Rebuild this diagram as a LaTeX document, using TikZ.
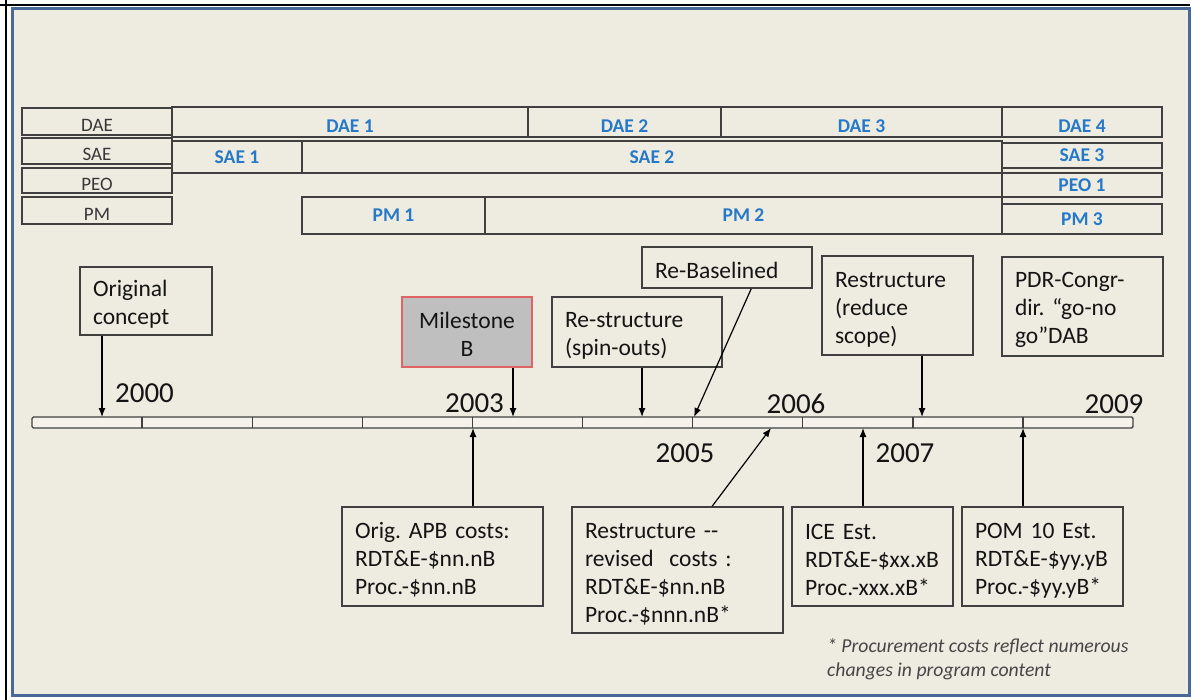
\documentclass[tikz,border=0pt]{standalone}
\usepackage{fontspec}
\setmainfont{Carlito}
\usetikzlibrary{arrows.meta}
\definecolor{bg}{RGB}{238,236,225}
\definecolor{barfill}{RGB}{244,242,234}
\definecolor{lc}{RGB}{64,64,64}
\definecolor{tc}{RGB}{55,55,55}
\definecolor{bl}{RGB}{38,120,200}
\definecolor{frameblue}{RGB}{74,105,155}
\definecolor{msfill}{RGB}{191,191,191}
\definecolor{msline}{RGB}{224,100,100}
\definecolor{txt}{RGB}{20,20,20}
\definecolor{note}{RGB}{70,70,70}
\tikzset{
  lab/.style={draw=lc, line width=1.6pt, fill=bg, text=tc, inner sep=0pt,
    font=\fontsize{19}{22}\selectfont, text height=20pt, text depth=0pt},
  cell/.style={draw=lc, line width=1.6pt, fill=bg, text=bl, inner sep=0pt,
    font=\bfseries\fontsize{19.5}{22}\selectfont},
  lowtext/.style={text height=20.5pt, text depth=0pt},
  ev/.style={draw=lc, line width=1.6pt, fill=bg, text=txt, align=left,
    inner xsep=13pt, inner ysep=0pt, text height=23pt,
    font=\frenchspacing\fontsize{23.5}{28}\selectfont},
  msbox/.style={draw=msline, line width=1.6pt, fill=msfill, text=txt, align=center,
    inner xsep=13pt, inner ysep=0pt, text height=21pt, font=\fontsize{23.5}{28}\selectfont},
  yr/.style={font=\fontsize{29}{32}\selectfont, text=txt, inner sep=0pt},
  arr/.style={draw=black, line width=1.2pt, -{Latex[length=9pt,width=7pt]}},
  timebar/.style={draw=lc, line width=1.4pt, fill=barfill, rounded corners=1.5pt, inner sep=0pt},
  tickline/.style={draw=lc, line width=1.4pt},
  notetext/.style={font=\frenchspacing\itshape\fontsize{19.7}{24}\selectfont, text=note, align=left, inner sep=0pt}
}
\begin{document}
\begin{tikzpicture}[x=1pt,y=-1pt]
\useasboundingbox (0,0) rectangle (1193,700);
\fill[white] (0,0) rectangle (1193,700);
\draw[frameblue, line width=3pt, fill=bg] (12.5,9) rectangle (1189.5,695.5);
\draw[black, line width=2.5pt] (0,5) -- (1190,5);
\draw[black, line width=2.5pt] (6,0) -- (6,700);

% row labels
\node[lab, minimum width=150pt, minimum height=27pt] (ldae) at (97,121.5) {DAE};
\node[lab, minimum width=150pt, minimum height=26pt] (lsae) at (97,151) {SAE};
\node[lab, minimum width=150pt, minimum height=25pt] (lpeo) at (97,180.5) {PEO};
\node[lab, minimum width=150pt, minimum height=27pt] (lpm) at (97,210.5) {PM};

% DAE row
\node[cell, lowtext, minimum width=356pt, minimum height=30pt] (dae1) at (350,122) {DAE 1};
\node[cell, lowtext, minimum width=193pt, minimum height=30pt] (dae2) at (624.5,122) {DAE 2};
\node[cell, lowtext, minimum width=281pt, minimum height=30pt] (dae3) at (861.5,122) {DAE 3};
\node[cell, lowtext, minimum width=160pt, minimum height=30pt] (dae4) at (1082,122) {DAE 4};
% SAE row
\node[cell, minimum width=130pt, minimum height=32pt] (sae1) at (237,157) {SAE 1};
\node[cell, minimum width=700pt, minimum height=32pt] (sae2) at (652,157) {SAE 2};
\node[cell, minimum width=160pt, minimum height=25pt] (sae3) at (1082,155.5) {SAE 3};
% PEO row
\node[cell, minimum width=160pt, minimum height=24pt] (peo1) at (1082,185) {PEO 1};
% PM row
\node[cell, minimum width=183pt, minimum height=37pt] (pm1) at (393.5,215.5) {PM 1};
\node[cell, minimum width=517pt, minimum height=37pt] (pm2) at (743.5,215.5) {PM 2};
\node[cell, minimum width=160pt, minimum height=30pt] (pm3) at (1082,219) {PM 3};

% time bar
\node[timebar, minimum width=1101pt, minimum height=11pt] (bar) at (582.5,422.5) {};
\foreach \i in {1,...,9} \draw[tickline] (32+110.1*\i,417) -- ++(0,11);

% years
\node[yr] (y2000) at (144.5,393) {2000};
\node[yr] (y2003) at (474.5,403) {2003};
\node[yr] (y2005) at (685,453) {2005};
\node[yr] (y2006) at (796,404) {2006};
\node[yr] (y2007) at (905,453) {2007};
\node[yr] (y2009) at (1114,404) {2009};

% event boxes above
\node[ev, text width=106pt, minimum height=68pt] (orig) at (146,301) {Original\\concept};
\node[msbox, text width=104pt, minimum height=70pt] (ms) at (467,332) {Milestone\\B};
\node[ev, text width=144pt, minimum height=70pt] (rs1) at (637,332) {Re-structure\\(spin-outs)};
\node[ev, text width=144pt, minimum height=41pt] (rb) at (727,267.5) {Re-Baselined};
\node[ev, text width=125pt, minimum height=99pt] (rs2) at (897.5,305.5) {Restructure\\(reduce\\scope)};
\node[ev, text width=135pt, minimum height=99pt] (pdr) at (1082.5,306.5) {PDR-Congr-\\dir. “go-no\\go”DAB};

% cost boxes below
\node[ev, text width=175pt, minimum height=99pt] (apb) at (442.5,556.5) {Orig. APB costs:\\RDT\&E-\$nn.nB\\Proc.-\$nn.nB};
\node[ev, text width=185pt, minimum height=126pt] (rr) at (677.5,570) {Restructure -{}-\\revised~ costs~:\\RDT\&E-\$nn.nB\\Proc.-\$nnn.nB*};
\node[ev, text width=135pt, minimum height=99pt] (ice) at (872.5,556.5) {ICE Est.\\RDT\&E-\$xx.xB\\Proc.-xxx.xB*};
\node[ev, text width=135pt, minimum height=99pt] (pom) at (1042.5,556.5) {POM 10 Est.\\RDT\&E-\$yy.yB\\Proc.-\$yy.yB*};

% footnote
\node[notetext, anchor=base west] (fn) at (827,676) {* Procurement costs reflect numerous\\changes in program content};

% arrow targets on the bar
\coordinate (t0) at (102,417);
\coordinate (t3) at (513,417);
\coordinate (t4) at (642,417);
\coordinate (t5) at (694,417);
\coordinate (t7) at (922,417);
\coordinate (b3) at (473,428);
\coordinate (b6) at (771,428);
\coordinate (b7) at (863,428);
\coordinate (b8) at (1023,428);

% arrows from above
\draw[arr] (orig.south -| t0) -- (t0);
\draw[arr] (ms.south -| t3) -- (t3);
\draw[arr] (rs1.south -| t4) -- (t4);
\draw[arr] ([xshift=110pt]rb.south west) -- (t5);
\draw[arr] (rs2.south -| t7) -- (t7);
% arrows from below
\draw[arr] (apb.north -| b3) -- (b3);
\draw[arr] ([xshift=141pt]rr.north west) -- (b6);
\draw[arr] (ice.north -| b7) -- (b7);
\draw[arr] (pom.north -| b8) -- (b8);
\end{tikzpicture}
\end{document}
